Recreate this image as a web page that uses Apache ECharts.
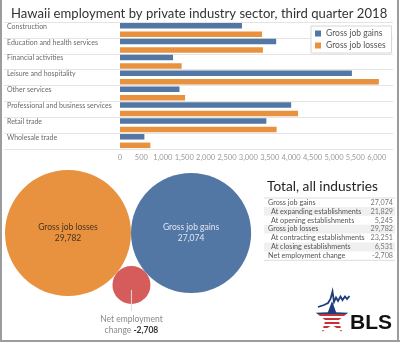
<!DOCTYPE html>
<html>
<head>
<meta charset="utf-8">
<script src="https://cdn.jsdelivr.net/npm/echarts@6/dist/echarts.min.js"></script>
<style>
  html, body { margin: 0; padding: 0; background: #fff; }
  #chart { width: 400px; height: 342px; }
</style>
</head>
<body>
<div id="chart"></div>
<script>
// Hawaii private-sector gross job flows, 2018 Q3
const categories = [
  'Construction',
  'Education and health services',
  'Financial activities',
  'Leisure and hospitality',
  'Other services',
  'Professional and business services',
  'Retail trade',
  'Wholesale trade'
];
const gains  = [2850, 3650, 1240, 5420, 1390, 4000, 3420, 570];
const losses = [3320, 3340, 1440, 6050, 1520, 4160, 3660, 710];

const bubbleNames  = ['Gross job losses', 'Gross job gains', 'Net employment change'];
const bubbleValues = [29782, 27074, -2708];

const tableRows = [
  'Gross job gains',
  'At expanding establishments',
  'At opening establishments',
  'Gross job losses',
  'At contracting establishments',
  'At closing establishments',
  'Net employment change'
];
const tableValues = [27074, 21829, 5245, 29782, 23251, 6531, -2708];
const tableIndent = [0, 1, 1, 0, 1, 1, 0];

const BLUE = '#5277a4';
const ORANGE = '#e8913f';
const RED = '#d65b5b';
const FONT = 'Lato';

function fmt(v) {
  const s = String(Math.abs(v)).replace(/\B(?=(\d{3})+(?!\d))/g, ',');
  return (v < 0 ? '-' : '') + s;
}

// Packed bubbles: area proportional to value, each tangent to its neighbours
const K = 63 / Math.sqrt(29782);
const radii = bubbleValues.map(v => K * Math.sqrt(Math.abs(v)));
const c1 = [5 + radii[0], 233];
const d12 = radii[0] + radii[1];
const c2 = [c1[0] + d12, c1[1]];
const a = radii[0] + radii[2], b = radii[1] + radii[2];
const px = (a * a - b * b + d12 * d12) / (2 * d12);
const py = Math.sqrt(a * a - px * px);
const c3 = [c1[0] + px, c1[1] + py];
const centers = [c1, c2, c3];

const chart = echarts.init(document.getElementById('chart'), null, { renderer: 'canvas' });

const splitStyle = { show: true, lineStyle: { color: '#e4e4e4', width: 1 } };

const option = {
  animation: false,
  textStyle: { fontFamily: FONT },
  title: {
    text: 'Hawaii employment by private industry sector, third quarter 2018',
    left: 6, top: 2,
    textStyle: { fontFamily: FONT, fontSize: 13.1, fontWeight: 'normal', color: '#333' }
  },
  legend: {
    data: ['Gross job gains', 'Gross job losses'],
    orient: 'vertical',
    left: 311, top: 26,
    itemWidth: 6, itemHeight: 6, itemGap: 3,
    icon: 'rect',
    padding: [3, 6, 3, 4],
    backgroundColor: '#fff',
    borderColor: '#d6d6d6', borderWidth: 1,
    textStyle: { fontFamily: FONT, fontSize: 8.5, color: '#555' },
    z: 10
  },
  grid: [
    { left: 4, top: 22, width: 116, height: 127 },
    { left: 120, top: 22, right: 7, height: 127 },
    { left: 0, top: 0, width: 400, height: 342 }
  ],
  xAxis: [
    { gridIndex: 0, type: 'value', min: 0, max: 1, show: false },
    {
      gridIndex: 1, type: 'value', min: 0, max: 6380, interval: 500,
      axisLine: { show: false }, axisTick: { show: false }, splitLine: { show: false },
      axisLabel: {
        color: '#9a9a9a', fontSize: 7.5, margin: 5, showMaxLabel: false,
        formatter: v => fmt(v)
      }
    },
    { gridIndex: 2, type: 'value', min: 0, max: 400, show: false }
  ],
  yAxis: [
    {
      gridIndex: 0, type: 'category', data: categories, inverse: true,
      axisLine: { show: false }, axisTick: { show: false },
      splitLine: splitStyle,
      axisLabel: {
        inside: true, margin: 3, align: 'left', verticalAlign: 'bottom',
        fontSize: 7, color: '#6a6a6a'
      }
    },
    {
      gridIndex: 1, type: 'category', data: categories, inverse: true,
      axisLine: { show: false }, axisTick: { show: false },
      axisLabel: { show: false },
      splitLine: splitStyle
    },
    { gridIndex: 2, type: 'value', min: 0, max: 342, inverse: true, show: false }
  ],
  series: [
    {
      name: 'Gross job gains', type: 'bar', xAxisIndex: 1, yAxisIndex: 1,
      data: gains, barWidth: 5.5, barGap: '55%',
      itemStyle: { color: BLUE }
    },
    {
      name: 'Gross job losses', type: 'bar', xAxisIndex: 1, yAxisIndex: 1,
      data: losses, barWidth: 5.5, barGap: '55%',
      itemStyle: { color: ORANGE }
    },
    {
      name: 'bubbles', type: 'scatter', xAxisIndex: 2, yAxisIndex: 2,
      symbol: 'circle',
      symbolSize: (val) => 2 * K * Math.sqrt(Math.abs(val[2])),
      data: bubbleValues.map((v, i) => ({
        value: [centers[i][0], centers[i][1], v],
        name: bubbleNames[i],
        itemStyle: { color: [ORANGE, BLUE, RED][i], opacity: 1 },
        label: i === 2 ? {
          show: true, position: 'bottom', distance: 10,
          formatter: '{g|Net employment}\n{g|change }{b|' + fmt(v) + '}',
          rich: {
            g: { fontFamily: FONT, fontSize: 8.5, color: '#8a8a8a', lineHeight: 11 },
            b: { fontFamily: FONT, fontSize: 8.5, color: '#333', fontWeight: 'bold', lineHeight: 11 }
          }
        } : {
          show: true, position: 'inside',
          formatter: bubbleNames[i] + '\n' + fmt(v),
          fontFamily: FONT, fontSize: 8.5, lineHeight: 11,
          color: i === 0 ? '#4a3420' : '#dfe6f0'
        }
      })),
      emphasis: { disabled: true }
    }
  ]
};

chart.setOption(option);

// Leader from the net-change bubble down to its label
const netPx = chart.convertToPixel({ gridIndex: 2 }, [c3[0], c3[1]]);
const netR = radii[2];

// Summary table
const tableTop = 198, rowH = 8.9, tLeft = 264, tRight = 395;
const tableGraphics = [];
tableRows.forEach((label, i) => {
  const y = tableTop + i * rowH;
  if (i % 2 === 1) {
    tableGraphics.push({
      type: 'rect', shape: { x: tLeft, y: y, width: tRight - tLeft, height: rowH },
      style: { fill: '#f0f0f0' }, silent: true
    });
  }
  tableGraphics.push({
    type: 'text', x: tLeft + 4 + tableIndent[i] * 3, y: y + rowH / 2,
    style: { text: label, fontFamily: FONT, fontSize: 7.2, fill: '#555', verticalAlign: 'middle', align: 'left' }
  });
  tableGraphics.push({
    type: 'text', x: tRight - 2, y: y + rowH / 2,
    style: { text: fmt(tableValues[i]), fontFamily: FONT, fontSize: 7.2, fill: '#777', verticalAlign: 'middle', align: 'right' }
  });
});
tableGraphics.push({
  type: 'line', shape: { x1: tLeft, y1: tableTop, x2: tRight, y2: tableTop },
  style: { stroke: '#dcdcdc', lineWidth: 1 }
});
tableGraphics.push({
  type: 'line', shape: { x1: tLeft, y1: tableTop + tableRows.length * rowH, x2: tRight, y2: tableTop + tableRows.length * rowH },
  style: { stroke: '#dcdcdc', lineWidth: 1 }
});

// Star with stripes for the agency mark
const starC = [332, 318], R = 17, r = 7;
const starPts = [];
for (let k = 0; k < 10; k++) {
  const ang = -Math.PI / 2 + k * Math.PI / 5;
  const rad = k % 2 === 0 ? R : r;
  starPts.push([starC[0] + rad * Math.cos(ang), starC[1] + rad * Math.sin(ang)]);
}
const stripeStops = [{ offset: 0, color: '#1d3c7c' }, { offset: 0.42, color: '#1d3c7c' }];
const nStripes = 9;
for (let s = 0; s < nStripes; s++) {
  const o0 = 0.42 + s * (0.58 / nStripes), o1 = 0.42 + (s + 1) * (0.58 / nStripes);
  const col = s % 2 === 0 ? '#c8313a' : '#ffffff';
  stripeStops.push({ offset: o0, color: col }, { offset: o1, color: col });
}

const graphics = [
  // outer frame
  { type: 'line', shape: { x1: 1, y1: 0, x2: 1, y2: 342 }, style: { stroke: '#9c9c9c', lineWidth: 2 } },
  { type: 'line', shape: { x1: 398, y1: 0, x2: 398, y2: 342 }, style: { stroke: '#9c9c9c', lineWidth: 2 } },
  { type: 'line', shape: { x1: 0, y1: 341, x2: 400, y2: 341 }, style: { stroke: '#9c9c9c', lineWidth: 2 } },
  // leader line
  {
    type: 'line',
    shape: { x1: netPx[0], y1: netPx[1] + 5, x2: netPx[0], y2: netPx[1] + netR + 7 },
    style: { stroke: '#dcdcdc', lineWidth: 1 }, z: 100
  },
  // table heading
  {
    type: 'text', x: 267, y: 187,
    style: { text: 'Total, all industries', fontFamily: FONT, fontSize: 13.7, fill: '#222', verticalAlign: 'middle' }
  },
  ...tableGraphics,
  // logo
  {
    type: 'polygon', shape: { points: starPts },
    style: {
      fill: {
        type: 'linear', x: 0, y: 0, x2: 0, y2: 1, global: false,
        colorStops: stripeStops
      }
    }
  },
  {
    type: 'polyline',
    shape: { points: [[318, 307], [324, 305], [328, 303], [330.5, 299], [332.5, 291.5], [334, 302], [336, 297.5], [338, 301], [340.5, 296.5], [342.5, 300], [345, 296.5], [347, 299], [349.5, 296]] },
    style: { stroke: '#1d3c7c', lineWidth: 1.8, fill: null }
  },
  {
    type: 'text', x: 350, y: 323,
    style: { text: 'BLS', fontFamily: 'Liberation Sans', fontWeight: 'bold', fontSize: 21, fill: '#111', verticalAlign: 'middle' }
  }
];

chart.setOption({ graphic: graphics });
</script>
</body>
</html>
